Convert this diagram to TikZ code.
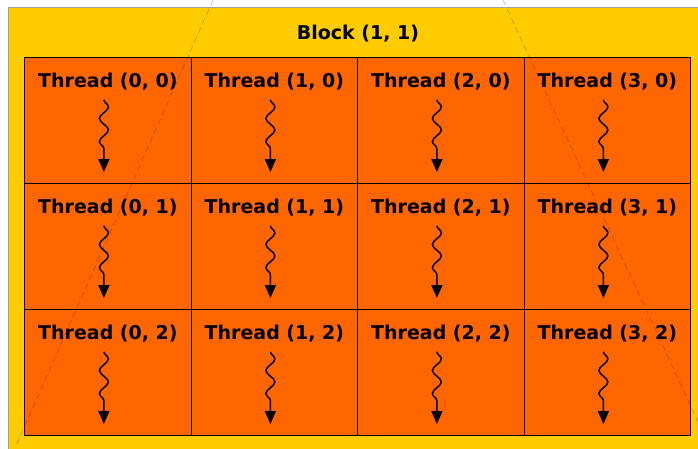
\documentclass[tikz,border=0pt]{standalone}
\usepackage{fontspec}
\setmainfont{DejaVu Sans}
\usetikzlibrary{arrows.meta,decorations.pathmorphing}

\definecolor{blockyellow}{HTML}{FFCC00}
\definecolor{threadorange}{HTML}{FF6600}
\definecolor{edgegrey}{HTML}{A0A0A0}

\tikzset{
  cell/.style={draw=black, line width=1.3pt, fill=threadorange, inner sep=0pt,
    minimum width=166.5pt, minimum height=126pt},
  lab/.style={inner sep=0pt, font=\fontsize{19}{21}\selectfont\bfseries, text=black},
  warp/.style={line width=1.5pt, decorate,
    decoration={snake, amplitude=4.5pt, segment length=23pt, post length=12pt},
    -{Triangle[width=11pt,length=13pt]}},
  proj/.style={draw=black, opacity=0.2, line width=0.9pt, dash pattern=on 6pt off 4pt}
}

\begin{document}
\begin{tikzpicture}[x=1pt,y=-1pt]
\clip (0,0) rectangle (698,448);
\fill[white] (0,0) rectangle (698,448);

% the block
\node[draw=edgegrey, line width=1.2pt, fill=blockyellow, inner sep=0pt, anchor=north west,
  minimum width=720pt, minimum height=470pt] (block) at (8,7) {};
\node[lab] (blocktitle) at (358,34) {Block (1, 1)};

% threads
\foreach \i in {0,...,3}{
  \foreach \j in {0,...,2}{
    \node[cell, anchor=north west] (cell-\i-\j) at (24+166.5*\i,57+126*\j) {};
    \node[lab] (lab-\i-\j) at ([yshift=-25pt]cell-\i-\j.north) {Thread (\i, \j)};
    \coordinate (end-\i-\j) at ([xshift=-4pt,yshift=-115pt]cell-\i-\j.north);
    \draw[warp] ([xshift=-4pt,yshift=-9pt]lab-\i-\j.south) -- (end-\i-\j);
  }
}

% projection lines
\coordinate (apexL) at (213,0);
\coordinate (footL) at (15,448);
\coordinate (apexR) at (503,0);
\coordinate (footR) at (710,448);
\draw[proj] (apexL) -- (footL);
\draw[proj] (apexR) -- (footR);
\end{tikzpicture}
\end{document}
